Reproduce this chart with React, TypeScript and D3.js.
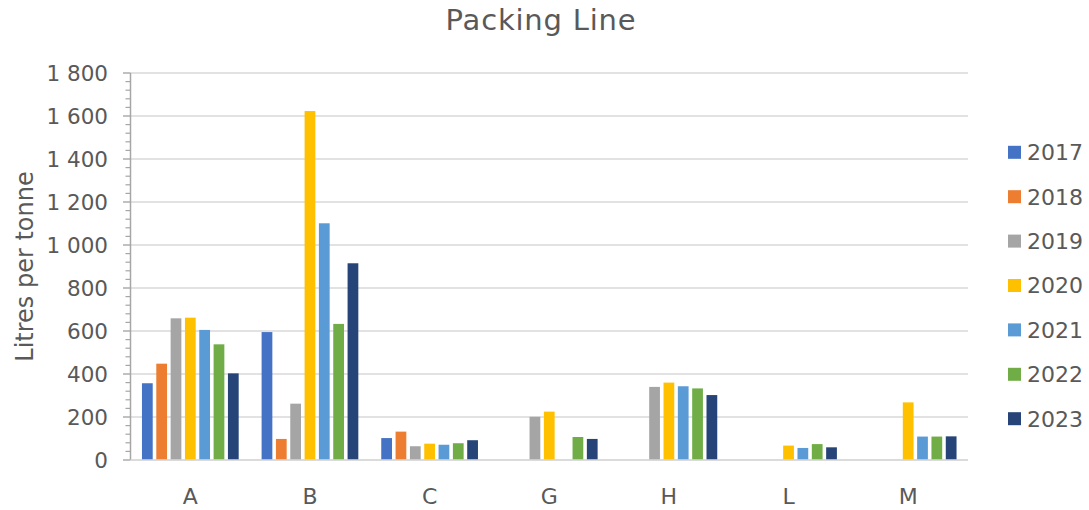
import React from "react";
import * as d3 from "d3";

// Packing line water use per site, litres per tonne, 2017–2023
const categories = ["A", "B", "C", "G", "H", "L", "M"];
const years = ["2017", "2018", "2019", "2020", "2021", "2022", "2023"];

// One array per year, values in category order (null = no data)
const v2017 = [357, 595, 102, null, null, null, null];
const v2018 = [448, 98, 132, null, null, null, null];
const v2019 = [659, 262, 64, 201, 340, null, null];
const v2020 = [662, 1623, 76, 225, 360, 67, 268];
const v2021 = [605, 1101, 71, null, 343, 56, 109];
const v2022 = [538, 633, 78, 107, 333, 74, 109];
const v2023 = [403, 915, 92, 98, 302, 59, 110];

const yTicks = [0, 200, 400, 600, 800, 1000, 1200, 1400, 1600, 1800];
const yMinorStep = 40;

const seriesValues = [v2017, v2018, v2019, v2020, v2021, v2022, v2023];
const colors = ["#4472C4", "#ED7D31", "#A5A5A5", "#FFC000", "#5B9BD5", "#70AD47", "#264478"];

const W = 1089;
const H = 510;
const plot = { left: 130.5, right: 968, top: 73, bottom: 460 };
const font = "'DejaVu Sans', sans-serif";
const textColor = "#595959";

const fmt = (v: number) => d3.format(",")(v).replace(/,/g, " ");

export default function App() {
  const x0 = d3.scaleBand<string>().domain(categories).range([plot.left, plot.right]).paddingInner(0).paddingOuter(0);
  const x1 = d3.scaleBand<string>().domain(years).range([0, x0.bandwidth()]).paddingInner(0.25).paddingOuter(0.8);
  const y = d3.scaleLinear().domain([0, 1800]).range([plot.bottom, plot.top]);

  const minorTicks = d3.range(0, 1800 + 1, yMinorStep).filter((t) => t % 200 !== 0);

  return (
    <svg width={W} height={H} style={{ position: "absolute", left: 0, top: 0, background: "#fff" }}>
      <rect x={0} y={0} width={W} height={H} fill="#fff" />
      <text x={541} y={30} textAnchor="middle" fontFamily={font} fontSize={29} letterSpacing={0.8} fill={textColor}>
        Packing Line
      </text>

      {/* gridlines */}
      {yTicks.map((t) => (
        <line key={"g" + t} x1={plot.left} x2={plot.right} y1={y(t)} y2={y(t)} stroke="#d9d9d9" strokeWidth={1.4} />
      ))}

      {/* bars */}
      {categories.map((c, ci) => (
        <g key={c} transform={`translate(${x0(c)},0)`}>
          {years.map((yr, si) => {
            const v = seriesValues[si][ci];
            if (v == null) return null;
            return (
              <rect
                key={yr}
                x={x1(yr)}
                y={y(v)}
                width={x1.bandwidth()}
                height={y(0) - y(v)}
                fill={colors[si]}
              />
            );
          })}
        </g>
      ))}

      {/* y axis */}
      <line x1={plot.left} x2={plot.left} y1={plot.top} y2={plot.bottom} stroke="#a6a6a6" strokeWidth={1.5} />
      {yTicks.map((t) => (
        <line key={"t" + t} x1={plot.left - 7.5} x2={plot.left} y1={y(t)} y2={y(t)} stroke="#a6a6a6" strokeWidth={1.4} />
      ))}
      {minorTicks.map((t) => (
        <line key={"m" + t} x1={plot.left - 5} x2={plot.left} y1={y(t)} y2={y(t)} stroke="#a6a6a6" strokeWidth={1.2} />
      ))}
      {yTicks.map((t) => (
        <text
          key={"l" + t}
          x={108}
          y={y(t)}
          dy="0.36em"
          textAnchor="end"
          fontFamily={font}
          fontSize={21.5}
          fill={textColor}
        >
          {fmt(t)}
        </text>
      ))}

      {/* x axis */}
      <line x1={plot.left} x2={plot.right} y1={plot.bottom} y2={plot.bottom} stroke="#d9d9d9" strokeWidth={1.4} />
      {categories.map((c) => (
        <text
          key={"c" + c}
          x={(x0(c) as number) + x0.bandwidth() / 2}
          y={504}
          textAnchor="middle"
          fontFamily={font}
          fontSize={22}
          fill={textColor}
        >
          {c}
        </text>
      ))}

      {/* y axis title */}
      <text
        transform={`translate(33,${(plot.top + plot.bottom) / 2}) rotate(-90)`}
        textAnchor="middle"
        fontFamily={font}
        fontSize={24}
        fill={textColor}
      >
        Litres per tonne
      </text>

      {/* legend */}
      {years.map((yr, i) => {
        const cy = 152.3 + i * 44.4;
        return (
          <g key={"lg" + yr}>
            <rect x={1008} y={cy - 6.5} width={13} height={13} fill={colors[i]} />
            <text x={1027} y={cy} dy="0.36em" fontFamily={font} fontSize={22} fill={textColor}>
              {yr}
            </text>
          </g>
        );
      })}
    </svg>
  );
}
